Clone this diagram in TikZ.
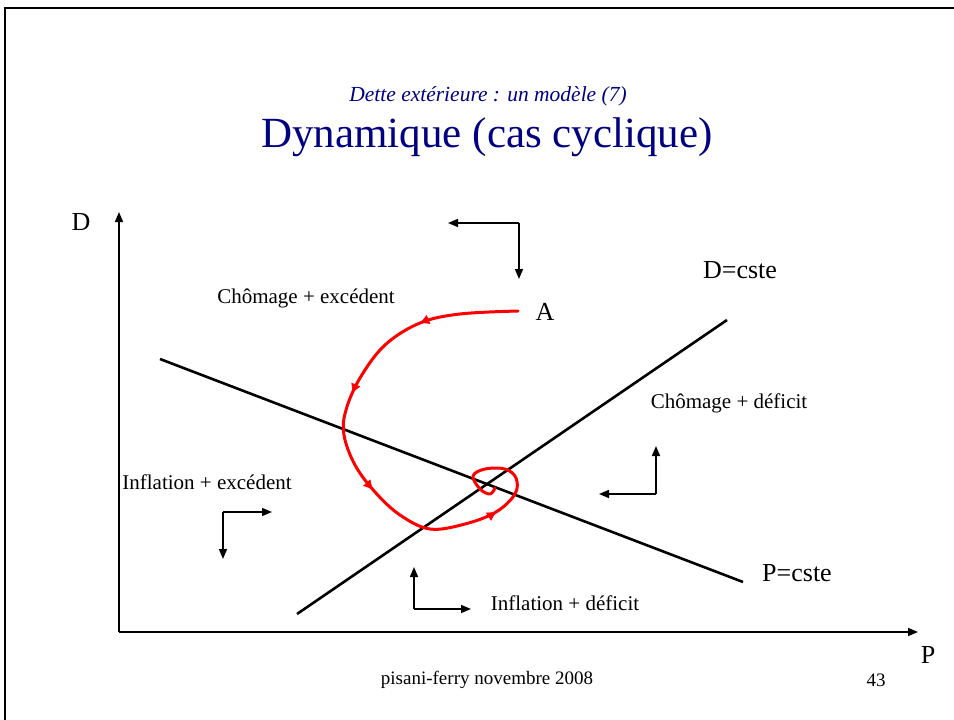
\documentclass[tikz,border=0pt]{standalone}
\usepackage{fontspec}
\setmainfont{Liberation Serif}
\usepackage{xcolor}
\usetikzlibrary{arrows.meta,decorations.markings}
\definecolor{slidenavy}{RGB}{0,0,128}

\begin{document}
\begin{tikzpicture}[
    x=1pt, y=-1pt,
    lbl/.style={inner sep=0pt, font=\fontsize{21}{25}\selectfont},
    biglbl/.style={inner sep=0pt, font=\fontsize{26}{30}\selectfont},
    axis/.style={line width=1.5pt, -{Triangle[length=10pt,width=8pt]}},
    curve/.style={line width=2.6pt},
    corner/.style={line width=1.5pt, -{Triangle[length=10pt,width=8pt]}},
    traj/.style={red, line width=3pt, line cap=round, line join=round},
    midarrows/.style={postaction={decorate, decoration={markings,
        mark=at position 0.175 with {\arrow[red, line width=0.8pt]{Latex[length=10pt,width=10pt]}},
        mark=at position 0.35 with {\arrow[red, line width=0.8pt]{Latex[length=10pt,width=10pt]}},
        mark=at position 0.535 with {\arrow[red, line width=0.8pt]{Latex[length=10pt,width=10pt]}},
        mark=at position 0.78 with {\arrow[red, line width=0.8pt]{Latex[length=10pt,width=10pt]}}}}}
]
\useasboundingbox (0,0) rectangle (954,720);
% slide frame
\draw[line width=2.5pt] (5,720) -- (5,8) -- (954,8);

% titles
\node[font=\fontsize{21.5}{25}\selectfont\itshape, text=slidenavy] (sub) at (488,96) {Dette extérieure : un modèle (7)};
\node[font=\fontsize{43}{48}\selectfont, text=slidenavy] (title) at (487,137) {Dynamique (cas cyclique)};

% axes
\coordinate (O) at (119,632);
\coordinate (ytop) at (119,212);
\coordinate (xend) at (918,632);
\draw[axis] (O) -- (ytop);
\draw[axis] (O) -- (xend);
\node[biglbl] (dlab) at (81,222) {D};
\node[biglbl] (plab) at (928,655) {P};

% the two schedules
\coordinate (p1) at (160,359);
\coordinate (p2) at (743,582);
\coordinate (d1) at (297,614);
\coordinate (d2) at (727,320);
\draw[curve] (p1) -- (p2);
\draw[curve] (d1) -- (d2);
\node[biglbl] (pcste) at (797,573) {P=cste};
\node[biglbl] (dcste) at (740,270) {D=cste};

% regions
\node[lbl] (chex) at (306,298) {Chômage + excédent};
\node[lbl] (chdef) at (729,403) {Chômage + déficit};
\node[lbl] (infex) at (207,482) {Inflation + excédent};
\node[lbl] (infdef) at (565,603) {Inflation + déficit};

% direction arrows
\coordinate (c1) at (519,223);
\draw[corner] (c1) -- (448,223);
\draw[corner] (c1) -- (519,279);
\coordinate (c2) at (656,494);
\draw[corner] (c2) -- (656,446);
\draw[corner] (c2) -- (599,494);
\coordinate (c3) at (223,512);
\draw[corner] (c3) -- (272,512);
\draw[corner] (c3) -- (223,559);
\coordinate (c4) at (414,609);
\draw[corner] (c4) -- (414,567);
\draw[corner] (c4) -- (471,609);

% trajectory from A
\node[biglbl] (A) at (545,312) {A};
\draw[traj, midarrows] plot[smooth, tension=0.6] coordinates {
  (518,311) (460,314) (420,323) (385,345) (360,378) (346,410) (344,435)
  (355,465) (375,492) (400,515) (430,529) (465,524) (496,512) (515,494)
  (516,478) (505,469) (485,469) (473,476) (480,489) (490,494) (495,488)};

% footer
\node[font=\fontsize{19}{22}\selectfont] (foot) at (487,680) {pisani-ferry novembre 2008};
\node[font=\fontsize{19}{22}\selectfont] (pnum) at (876,680) {43};
\end{tikzpicture}
\end{document}
